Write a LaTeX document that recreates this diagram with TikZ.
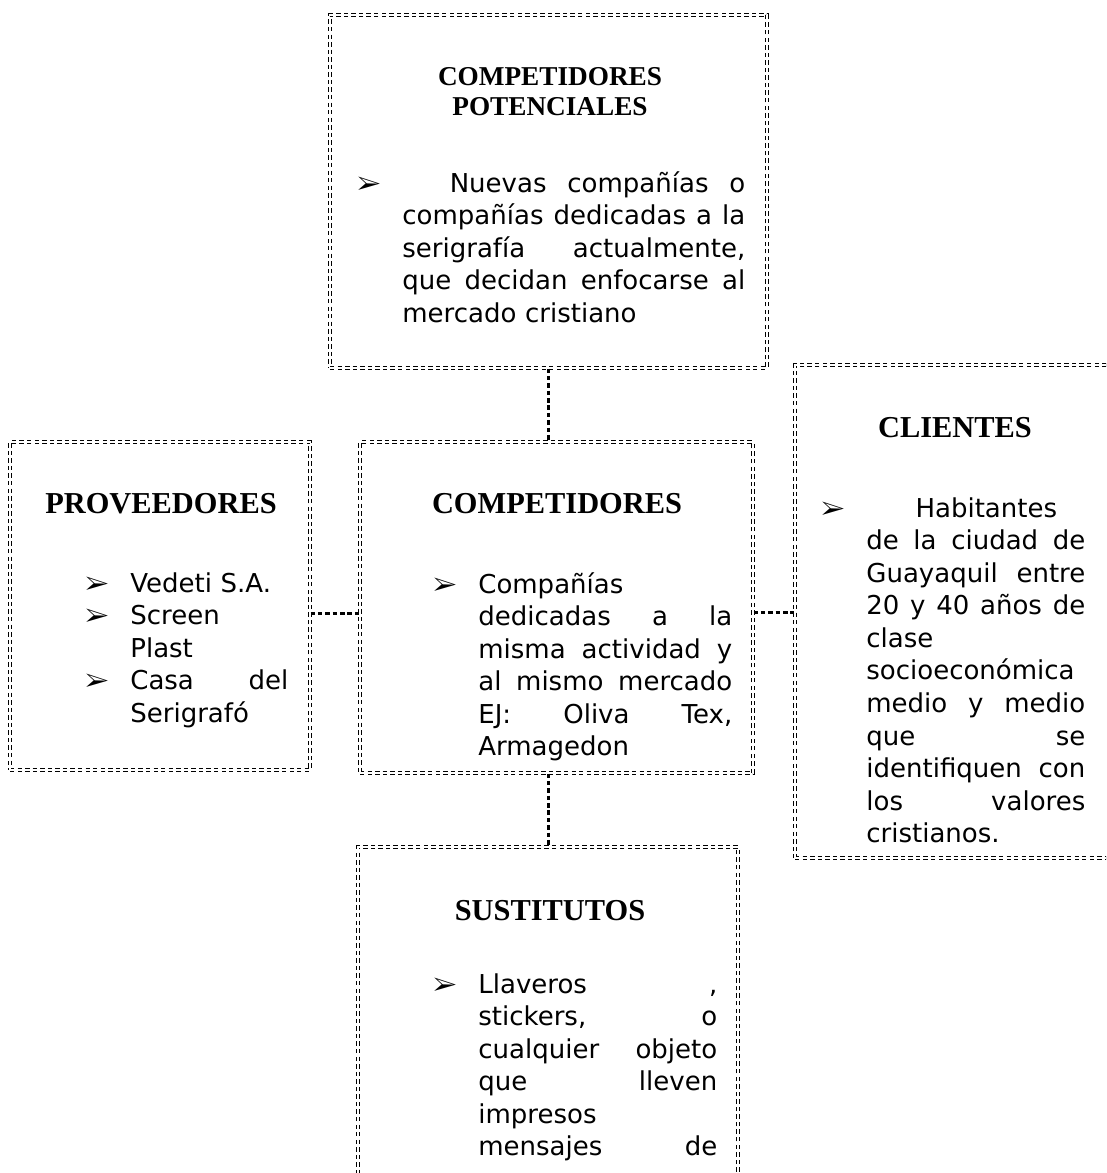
\documentclass[tikz,border=0pt]{standalone}
\usepackage{fontspec}
\usepackage{pifont}
\usetikzlibrary{fit}
\setmainfont{Liberation Serif}
\newfontfamily\vfont{DejaVu Sans}
\newcommand{\blt}{\llap{\makebox[25.6pt][l]{\fontsize{14.5}{14.5}\selectfont\ding{226}}}}
\newcommand{\jl}[1]{\makebox[\linewidth][s]{\spaceskip=0pt\xspaceskip=0pt #1}}
\newcommand{\nl}[1]{\makebox[\linewidth][l]{#1}}
\tikzset{box/.style = {draw, double, double distance=1.3pt, line width=0.6pt, dash pattern=on 2.5pt off 1.8pt, inner sep=0pt},
    link/.style = {line width=1.7pt, dash pattern=on 2.6pt off 1.6pt},
    hd/.style = {font=\fontsize{17.3}{19}\selectfont\bfseries, inner sep=0pt, anchor=base},
    txt/.style = {font=\vfont\fontsize{14.8}{18.55}\selectfont, inner sep=0pt, anchor=base west}}

\begin{document}
\begin{tikzpicture}[x=0.02cm, y=-0.02cm]
        \clip (0,0) rectangle (1106,1173);
        % boxes
        \node[box, fit={(330,15) (767,368)}] (pot) {};
        \node[box, fit={(10,442) (310,770)}] (prov) {};
        \node[box, fit={(360,442) (753,773)}] (comp) {};
        \node[box, fit={(795,365) (1116,858)}] (cli) {};
        \node[box, fit={(358,847) (738,1260)}] (sus) {};

        % titles
        \node[hd, font=\fontsize{15.5}{17}\selectfont\bfseries, anchor=north, align=center] (potT) at (550,67) {COMPETIDORES\\POTENCIALES};
        \node[hd] (provT) at (161,513) {PROVEEDORES};
        \node[hd] (compT) at (557,513) {COMPETIDORES};
        \node[hd] (cliT) at (955,437) {CLIENTES};
        \node[hd] (susT) at (550,920) {SUSTITUTOS};

        % texts
        \node[txt, text width=6.86cm] (potB) at (402,192) {\jl{\blt\hspace*{27pt}Nuevas compañías o}\\
            \jl{compañías dedicadas a la}\\ \jl{serigrafía \hspace{1.2em} actualmente,}\\
            \jl{que decidan enfocarse al}\\ \nl{mercado cristiano}};
        \node[txt, text width=3.16cm] (provB) at (130,592) {\nl{\blt Vedeti S.A.}\\ \nl{\blt Screen}\\ \nl{Plast}\\
            \jl{\blt Casa del}\\ \nl{Serigrafó}};
        \node[txt, text width=5.08cm] (compB) at (478,593) {\nl{\blt Compañías}\\ \jl{dedicadas a la}\\
            \jl{misma actividad y}\\ \jl{al mismo mercado}\\ \jl{EJ: Oliva Tex,}\\ \nl{Armagedon}};
        \node[txt, text width=4.38cm] (cliB) at (866,517) {\nl{\blt\hspace*{28pt}Habitantes}\\
            \jl{de la ciudad de}\\ \jl{Guayaquil \hspace{0.3em} entre}\\ \jl{20 y 40 años de}\\ \nl{clase}\\
            \nl{socioeconómica}\\ \jl{medio y medio}\\ \jl{que se}\\ \jl{identifiquen con}\\
            \jl{los valores}\\ \nl{cristianos.}};
        \node[txt, text width=4.78cm] (susB) at (478,993) {\jl{\blt Llaveros ,}\\ \jl{stickers, o}\\
            \jl{cualquier objeto}\\ \jl{que lleven}\\ \nl{impresos}\\ \jl{mensajes de}};

        % links
        \coordinate (pc) at ([yshift=-4pt]prov.east);
        \coordinate (cc) at ([yshift=-3pt]comp.east);
        \draw[link] (pot.south) -- (pot.south |- comp.north);
        \draw[link] (pc) -- (pc -| comp.west);
        \draw[link] (cc) -- (cc -| cli.west);
        \draw[link] (sus.north |- comp.south) -- (sus.north);
    \end{tikzpicture}
\end{document}
